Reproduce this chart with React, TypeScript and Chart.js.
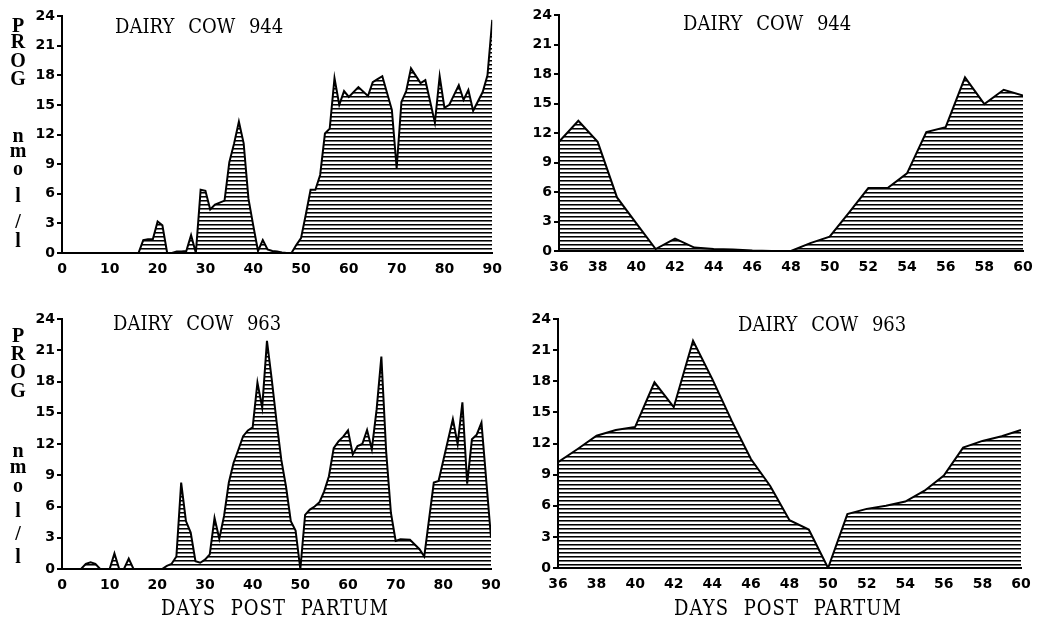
import React, { useEffect, useRef } from "react";
import { Chart, registerables } from "chart.js";

Chart.register(...registerables);

// ---- Data: progesterone (nmol/l) by days post partum ----
const cow944Days = [0, 16, 17, 18, 19, 20, 21, 22, 23, 24, 25, 26, 27, 28, 29, 30, 31, 32, 33, 34, 35, 36, 37, 38, 39, 40, 41, 42, 43, 44, 45, 46, 47, 48, 49, 50, 51, 52, 53, 54, 55, 56, 57, 58, 59, 60, 62, 64, 65, 66, 67, 69, 70, 71, 72, 73, 75, 76, 78, 79, 80, 81, 83, 84, 85, 86, 88, 89, 90];
const cow944Prog = [0, 0, 1.3, 1.4, 1.4, 3.2, 2.8, 0, 0, 0.15, 0.15, 0.2, 1.8, 0, 6.4, 6.3, 4.4, 4.9, 5.1, 5.3, 9.2, 11.1, 13.3, 11.1, 5.5, 2.8, 0.2, 1.3, 0.35, 0.2, 0.15, 0.05, 0, 0, 0.8, 1.5, 3.9, 6.4, 6.4, 7.9, 12.1, 12.6, 17.7, 15.0, 16.4, 15.8, 16.8, 15.9, 17.3, 17.6, 17.9, 14.5, 8.6, 15.3, 16.4, 18.7, 17.2, 17.5, 13.2, 17.9, 14.7, 15.0, 17.0, 15.5, 16.5, 14.4, 16.3, 18.0, 23.6];

const cow944DetailDays = [36, 37, 38, 39, 40, 41, 42, 43, 44, 45, 46, 47, 48, 49, 50, 51, 52, 53, 54, 55, 56, 57, 58, 59, 60];
const cow944DetailProg = [11.1, 13.25, 11.1, 5.45, 2.8, 0.2, 1.25, 0.35, 0.2, 0.15, 0.05, 0, 0, 0.8, 1.45, 3.9, 6.4, 6.4, 7.9, 12.1, 12.6, 17.65, 14.95, 16.4, 15.8];

const cow963Days = [0, 4, 5, 6, 7, 8, 10, 11, 12, 13, 14, 15, 21, 22, 23, 24, 25, 26, 27, 28, 29, 30, 31, 32, 33, 34, 35, 36, 37, 38, 39, 40, 41, 42, 43, 44, 45, 46, 47, 48, 49, 50, 51, 52, 53, 54, 55, 56, 57, 58, 59, 60, 61, 62, 63, 64, 65, 66, 67, 68, 69, 70, 71, 73, 74, 75, 76, 78, 79, 82, 83, 84, 85, 86, 87, 88, 90];
const cow963Prog = [0, 0, 0.5, 0.65, 0.5, 0, 0, 1.5, 0, 0, 1.0, 0, 0, 0.3, 0.5, 1.2, 8.3, 4.6, 3.5, 0.75, 0.6, 0.9, 1.4, 4.9, 2.9, 5.1, 8.3, 10.2, 11.45, 12.75, 13.3, 13.6, 17.9, 15.5, 21.9, 18.2, 14.2, 10.5, 7.9, 4.6, 3.7, 0, 5.2, 5.7, 6.0, 6.4, 7.45, 8.9, 11.6, 12.25, 12.7, 13.3, 11.0, 11.8, 12.0, 13.35, 11.5, 15.3, 20.4, 11.3, 5.4, 2.7, 2.85, 2.8, 2.35, 1.9, 1.2, 8.3, 8.45, 14.4, 12.0, 16.0, 8.2, 12.45, 12.9, 14.05, 3.0];

const cow963DetailDays = [36, 37, 38, 39, 40, 41, 42, 43, 44, 45, 46, 47, 48, 49, 50, 51, 52, 53, 54, 55, 56, 57, 58, 59, 60];
const cow963DetailProg = [10.2, 11.45, 12.75, 13.3, 13.6, 17.9, 15.5, 21.9, 18.2, 14.2, 10.5, 7.9, 4.6, 3.7, 0, 5.2, 5.7, 6.0, 6.4, 7.45, 8.9, 11.6, 12.25, 12.7, 13.3];

const yMin = 0;
const yMax = 24;
const yStep = 3;
const fullRange = [0, 90, 10];
const detailRange = [36, 60, 2];

const titles = ["DAIRY COW 944", "DAIRY COW 944", "DAIRY COW 963", "DAIRY COW 963"];
const xAxisTitle = "DAYS POST PARTUM";
const yAxisLetters = ["P", "R", "O", "G", "n", "m", "o", "l", "/", "l"];

const tickFont = { family: "'DejaVu Sans', sans-serif", weight: "bold" as const, size: 14 };

type PanelProps = {
  left: number; top: number; width: number; height: number;
  yWidth: number; xHeight: number; padTop: number; padRight: number;
  days: number[]; prog: number[]; range: number[];
};

function Panel(p: PanelProps) {
  const ref = useRef<HTMLCanvasElement>(null);
  useEffect(() => {
    const canvas = ref.current!;
    const pc = document.createElement("canvas");
    pc.width = 4; pc.height = 4;
    const pctx = pc.getContext("2d")!;
    pctx.fillStyle = "#000";
    pctx.fillRect(0, 0, 4, 1);
    pctx.fillStyle = "rgba(0,0,0,0.55)";
    pctx.fillRect(0, 1, 4, 1);
    const pattern = canvas.getContext("2d")!.createPattern(pc, "repeat");
    const chart = new Chart(canvas, {
      type: "line",
      data: {
        datasets: [{
          data: p.days.map((d, i) => ({ x: d, y: p.prog[i] })),
          borderColor: "#000",
          borderWidth: 2,
          backgroundColor: pattern as any,
          fill: "origin",
          pointRadius: 0,
          tension: 0,
        }],
      },
      options: {
        responsive: false,
        animation: false,
        devicePixelRatio: 1,
        layout: { padding: { top: p.padTop, right: p.padRight, bottom: 0, left: 0 } },
        plugins: { legend: { display: false }, tooltip: { enabled: false }, title: { display: false } },
        scales: {
          x: {
            type: "linear",
            min: p.range[0], max: p.range[1],
            ticks: { stepSize: p.range[2], color: "#000", font: tickFont, padding: 8, maxRotation: 0, autoSkip: false },
            grid: { display: true, drawOnChartArea: false, drawTicks: false, color: "#000" },
            border: { display: true, color: "#000", width: 2 },
            afterFit: (s: any) => { s.height = p.xHeight; },
          },
          y: {
            min: yMin, max: yMax,
            ticks: { stepSize: yStep, color: "#000", font: tickFont, padding: 2 },
            grid: { display: true, drawOnChartArea: false, drawTicks: true, tickLength: 5, color: "#000", lineWidth: 2 },
            border: { display: true, color: "#000", width: 2 },
            afterFit: (s: any) => { s.width = p.yWidth; },
          },
        },
      },
    });
    return () => chart.destroy();
  }, []);
  return (
    <canvas ref={ref} width={p.width} height={p.height}
      style={{ position: "absolute", left: p.left, top: p.top, width: p.width, height: p.height }} />
  );
}

const serif = "'DejaVu Serif', serif";

function Title({ text, left, baseline }: { text: string; left: number; baseline: number }) {
  return (
    <div style={{
      position: "absolute", left, top: baseline - 15.2, fontFamily: serif, fontSize: 18, lineHeight: "18px",
      whiteSpace: "pre", wordSpacing: 8, transform: "scale(1, 1.18)", transformOrigin: "0 15.2px", color: "#000",
    }}>{text}</div>
  );
}

function AxisTitle({ center, baseline }: { center: number; baseline: number }) {
  return (
    <div style={{
      position: "absolute", left: center - 150, width: 300, textAlign: "center", top: baseline - 15.2,
      fontFamily: serif, fontSize: 18, lineHeight: "18px", whiteSpace: "pre", letterSpacing: 1, wordSpacing: 8,
      transform: "scale(1, 1.2)", transformOrigin: "0 15.2px", color: "#000",
    }}>{xAxisTitle}</div>
  );
}

function YLabel({ baselines }: { baselines: number[] }) {
  return (
    <>
      {yAxisLetters.map((ch, i) => (
        <div key={i} style={{
          position: "absolute", left: 6, width: 24, textAlign: "center", top: baselines[i] - 16.7,
          fontFamily: "'Liberation Serif', serif", fontWeight: "bold", fontSize: 20, lineHeight: "20px", color: "#000",
        }}>{ch}</div>
      ))}
    </>
  );
}

export default function App() {
  return (
    <div style={{ position: "fixed", left: 0, top: 0, width: 1043, height: 619, background: "#fff", overflow: "hidden" }}>
      <Panel left={0} top={0} width={510} height={290} yWidth={62} xHeight={37} padTop={16} padRight={17}
        days={cow944Days} prog={cow944Prog} range={fullRange} />
      <Panel left={520} top={0} width={523} height={290} yWidth={39} xHeight={39} padTop={15} padRight={20}
        days={cow944DetailDays} prog={cow944DetailProg} range={detailRange} />
      <Panel left={0} top={300} width={510} height={319} yWidth={62} xHeight={50} padTop={19} padRight={19}
        days={cow963Days} prog={cow963Prog} range={fullRange} />
      <Panel left={520} top={300} width={523} height={319} yWidth={38} xHeight={51} padTop={19} padRight={22}
        days={cow963DetailDays} prog={cow963DetailProg} range={detailRange} />

      <Title text={titles[0]} left={115} baseline={33} />
      <Title text={titles[1]} left={683} baseline={30} />
      <Title text={titles[2]} left={113} baseline={330} />
      <Title text={titles[3]} left={738} baseline={331} />

      <AxisTitle center={275} baseline={615} />
      <AxisTitle center={788} baseline={615} />

      <YLabel baselines={[32, 48, 67, 85, 142, 157, 175, 202, 228, 247]} />
      <YLabel baselines={[342, 360, 378, 397, 457, 473, 492, 517, 540, 563]} />
    </div>
  );
}
